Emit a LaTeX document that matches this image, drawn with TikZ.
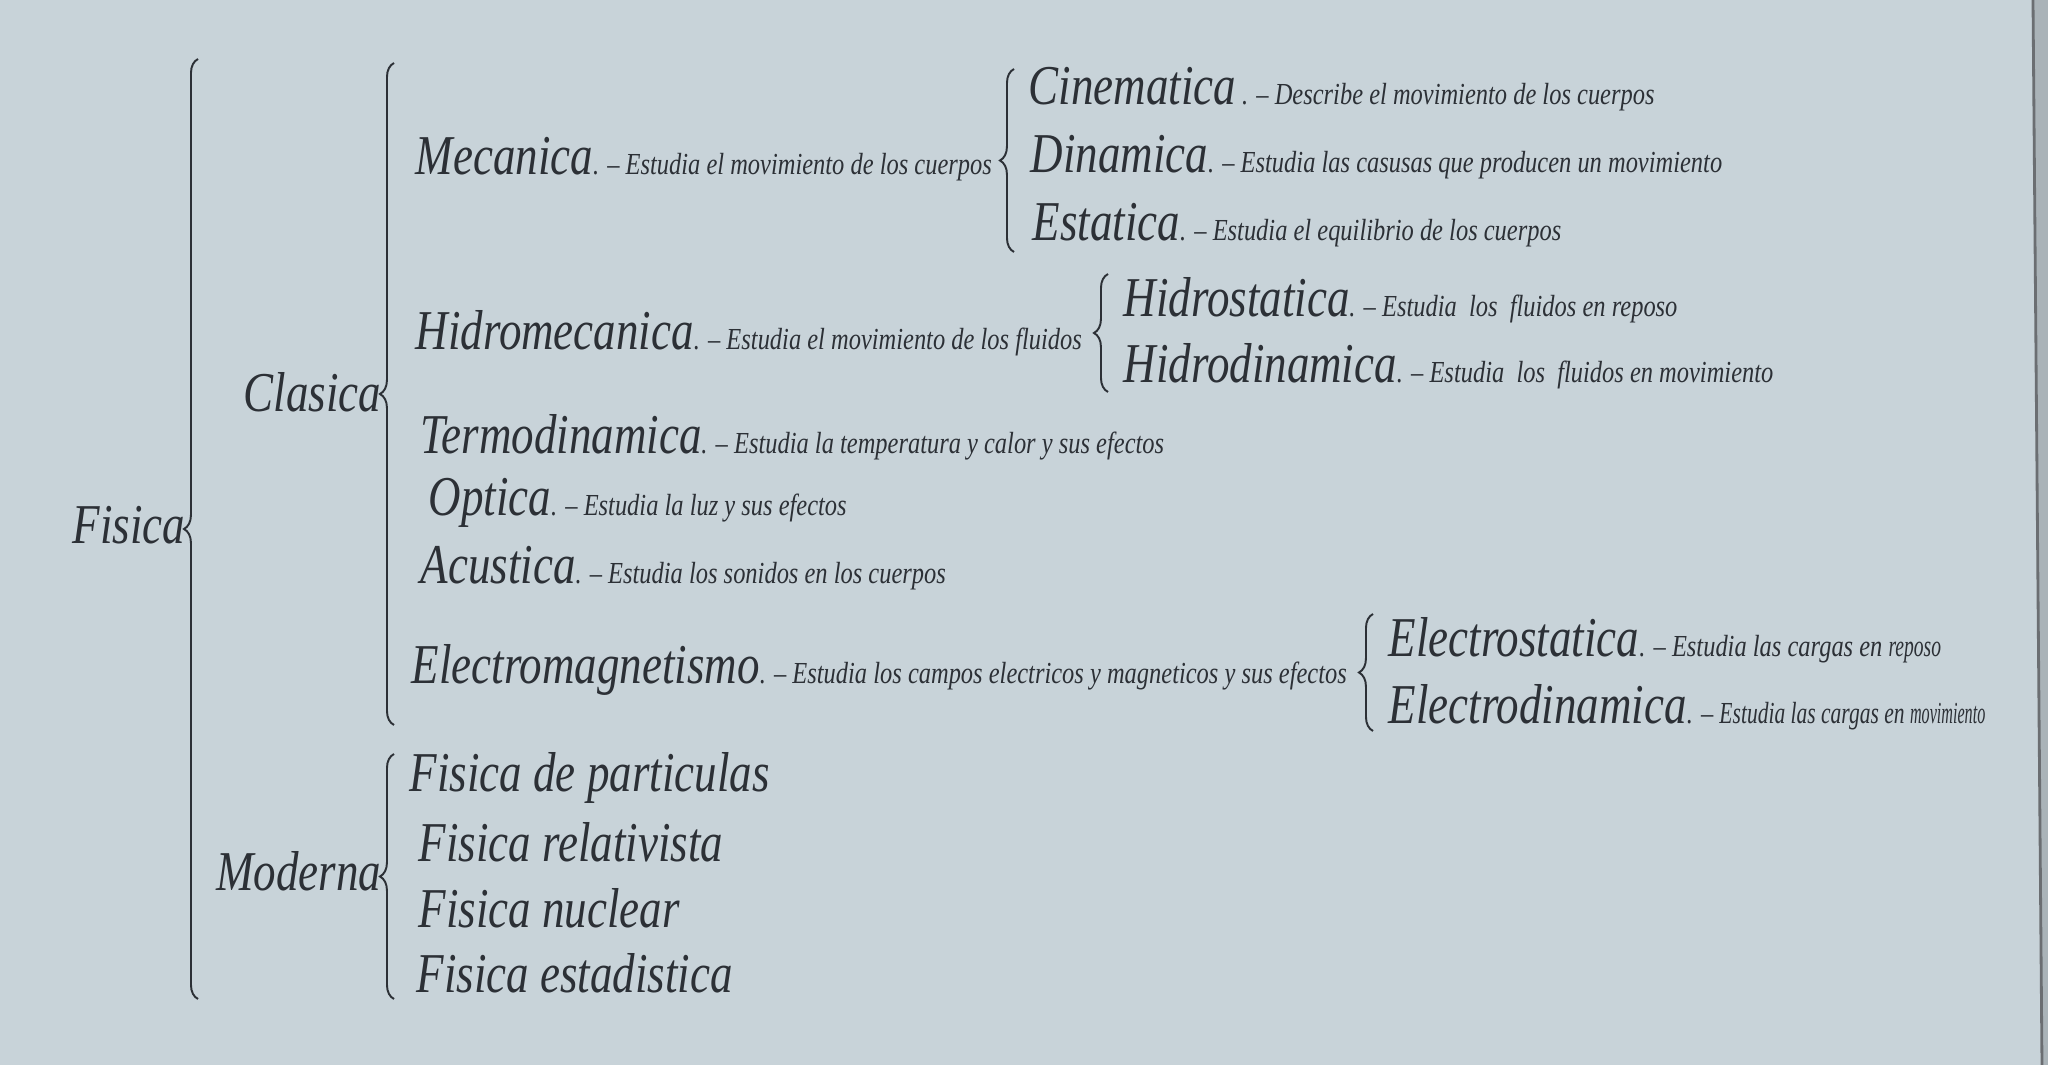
\documentclass[tikz,border=0pt]{standalone}
\usepackage{fontspec}
\usepackage{graphicx}
\setmainfont{Liberation Serif}[FakeStretch=0.8]
\usetikzlibrary{decorations.pathreplacing}
\definecolor{papel}{RGB}{200,211,217}
\definecolor{ink}{RGB}{44,48,54}
\newcommand{\rama}[1]{{\fontsize{16}{18}\selectfont\itshape #1}}
\newcommand{\nota}[1]{{\fontsize{8.7}{10}\selectfont\itshape #1}}
\tikzset{
  item/.style={anchor=west, inner sep=0pt, text=ink},
  llave/.style={draw=ink, line width=0.55pt, decorate, decoration={brace, amplitude=4pt}}
}

\begin{document}
\begin{tikzpicture}
                \useasboundingbox (0, 0) rectangle (20.48, 10.65);
                \fill [papel] (0, 0) rectangle (20.48, 10.65);
                \fill [papel!85!black] (20.33, 10.65) -- (20.48, 10.65) -- (20.48, 0) -- (20.42, 0) -- cycle;
                \draw [ink!70, line width=0.8pt] (20.33, 10.65) -- (20.42, 0);
                \node [item, anchor=east] (fis) at (1.86, 5.40) {\rama{Fisica}};
                \coordinate (fisB) at (1.98, 0.66);
                \coordinate (fisT) at (1.98, 10.06);
                \draw [llave] (fisB) -- (fisT);
                \node [item, anchor=east] (cla) at (3.82, 6.73) {\rama{Clasica}};
                \coordinate (claB) at (3.94, 3.40);
                \coordinate (claT) at (3.94, 10.02);
                \draw [llave] (claB) -- (claT);
                \node [item, anchor=east] (mod) at (3.82, 1.94) {\rama{Moderna}};
                \coordinate (modB) at (3.94, 0.66);
                \coordinate (modT) at (3.94, 3.11);
                \draw [llave] (modB) -- (modT);
                % ramas de la clasica
                \node [item] (mec) at (4.15, 9.06) {\rama{Mecanica}\nota{. -- Estudia el movimiento de los cuerpos}};
                \node [item] (hmec) at (4.15, 7.32) {\rama{Hidromecanica}\nota{. -- Estudia el movimiento de los fluidos}};
                \node [item] (ter) at (4.20, 6.28) {\rama{Termodinamica}\nota{. -- Estudia la temperatura y calor y sus efectos}};
                \node [item] (opt) at (4.28, 5.62) {\rama{Optica}\nota{. -- Estudia la luz y sus efectos}};
                \node [item] (acu) at (4.20, 4.97) {\rama{Acustica}\nota{. -- Estudia los sonidos en los cuerpos}};
                \node [item] (emag) at (4.11, 3.95) {\rama{Electromagnetismo}\nota{. -- Estudia los campos electricos y magneticos y sus efectos}};
                \coordinate (mecB) at (10.14, 8.13);
                \coordinate (mecT) at (10.14, 9.96);
                \draw [llave] (mecB) -- (mecT);
                \node [item] (cin) at (10.28, 9.76) {\rama{Cinematica}\nota{ . -- Describe el movimiento de los cuerpos}};
                \node [item] (din) at (10.30, 9.08) {\rama{Dinamica}\nota{. -- Estudia las casusas que producen un movimiento}};
                \node [item] (est) at (10.32, 8.40) {\rama{Estatica}\nota{. -- Estudia el equilibrio de los cuerpos}};
                \coordinate (hmecB) at (11.08, 6.73);
                \coordinate (hmecT) at (11.08, 7.91);
                \draw [llave] (hmecB) -- (hmecT);
                \node [item] (hest) at (11.23, 7.65) {\rama{Hidrostatica}\nota{. -- Estudia\ \ los\ \ fluidos en reposo}};
                \node [item] (hdin) at (11.23, 6.99) {\rama{Hidrodinamica}\nota{. -- Estudia\ \ los\ \ fluidos en movimiento}};
                \coordinate (emagB) at (13.73, 3.34);
                \coordinate (emagT) at (13.73, 4.51);
                \draw [llave] (emagB) -- (emagT);
                \node [item] (eest) at (13.88, 4.25) {\rama{Electrostatica}\nota{. -- Estudia las cargas en \scalebox{0.8}[1]{reposo}}};
                \node [item] (edin) at (13.88, 3.58) {\rama{Electrodinamica}\nota{. -- \scalebox{0.88}[1]{Estudia las cargas en \scalebox{0.75}[1]{movimiento}}}};
                % ramas de la moderna
                \node [item] (part) at (4.09, 2.87) {\rama{Fisica de particulas}};
                \node [item] (rel) at (4.18, 2.23) {\rama{Fisica relativista}};
                \node [item] (nuc) at (4.18, 1.57) {\rama{Fisica nuclear}};
                \node [item] (esta) at (4.16, 0.92) {\rama{Fisica estadistica}};
\end{tikzpicture}
\end{document}
